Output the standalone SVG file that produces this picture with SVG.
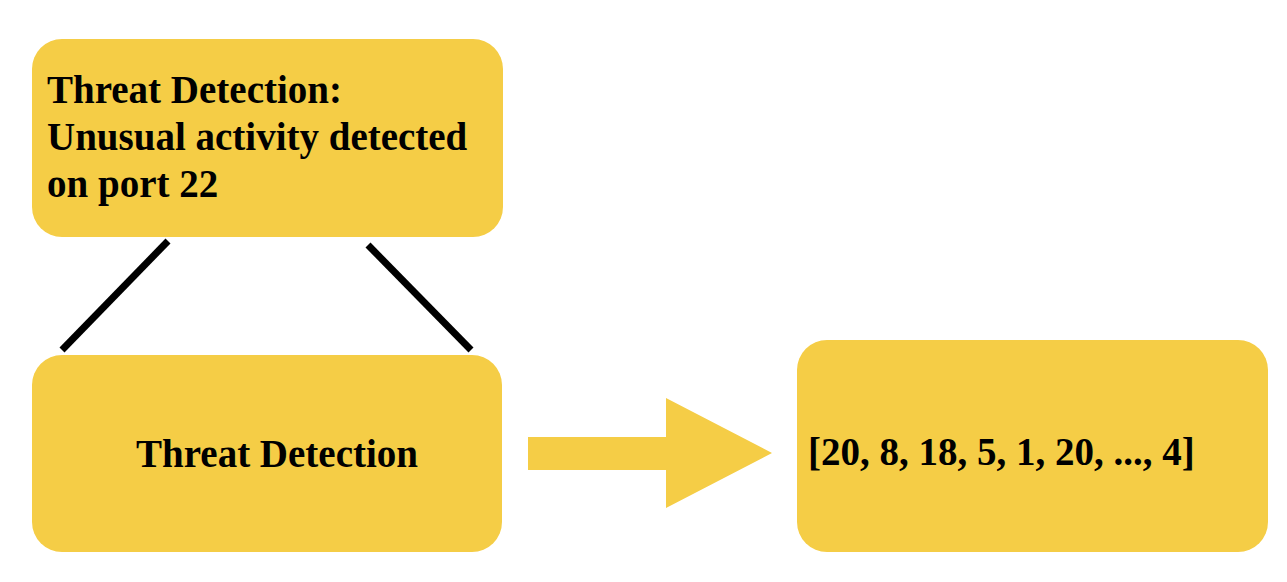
<svg xmlns="http://www.w3.org/2000/svg" width="1287" height="582" viewBox="0 0 1287 582">
<style>
.box{fill:#F5CD46}
.t{font-family:"Liberation Serif","Times New Roman",serif;font-weight:bold;font-size:39px;fill:#000}
.ln{stroke:#000;stroke-width:7;fill:none}
</style>
<rect width="1287" height="582" fill="#fff"/>
<g id="connectors">
<line class="ln" x1="168" y1="241" x2="62" y2="350"/>
<line class="ln" x1="368" y1="245" x2="471" y2="350"/>
<polygon class="box" points="528,437 666,437 666,398 772,453 666,508 666,470 528,470"/>
</g>
<g id="node-threat-detail">
<rect class="box" x="32" y="39" width="471" height="198" rx="30"/>
<text class="t" x="47" y="103">Threat Detection:</text>
<text class="t" x="47" y="150">Unusual activity detected</text>
<text class="t" x="47" y="197">on port 22</text>
</g>
<g id="node-threat">
<rect class="box" x="32" y="355" width="470" height="197" rx="30"/>
<text class="t" x="277" y="467" text-anchor="middle">Threat Detection</text>
</g>
<g id="node-vector">
<rect class="box" x="797" y="340" width="471" height="212" rx="30"/>
<text class="t" x="808" y="465">[20, 8, 18, 5, 1, 20, ..., 4]</text>
</g>
</svg>
